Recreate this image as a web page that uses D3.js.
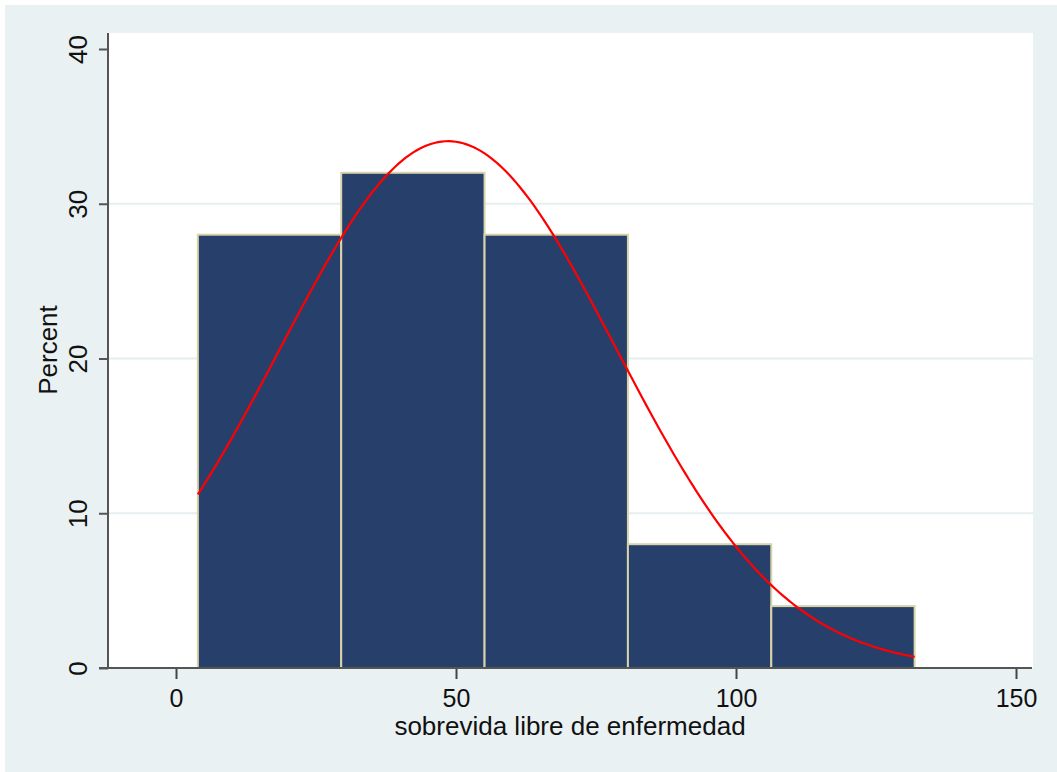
<!DOCTYPE html>
<html>
<head>
<meta charset="utf-8">
<script src="https://cdn.jsdelivr.net/npm/d3@7"></script>
<style>
  html, body { margin: 0; padding: 0; background: #ffffff; }
  svg { display: block; }
  text { font-family: "Liberation Sans", Arial, sans-serif; fill: #111; }
</style>
</head>
<body>
<svg id="chart" width="1057" height="772"></svg>
<script>
// Histogram of disease-free survival (percent per bin)
const binStarts = [3.9, 29.5, 55.1, 80.7, 106.3];
const binWidth = 25.6;
const percents = [28, 32, 28, 8, 4];

// Fitted normal curve parameters
const fitMean = 48.6;
const fitSd = 30.0;

const xTicks = [0, 50, 100, 150];
const yTicks = [0, 10, 20, 30, 40];
const yGrid = [10, 20, 30];
const xTitle = "sobrevida libre de enfermedad";
const yTitle = "Percent";

const svg = d3.select("#chart");

const x = d3.scaleLinear().domain([0, 150]).range([176, 1016]);
const y = d3.scaleLinear().domain([0, 40]).range([668, 49]);

const plotLeft = 108, plotRight = 1033, plotTop = 33, plotBottom = 668;

// outer graph region
svg.append("rect")
  .attr("x", 5).attr("y", 5).attr("width", 1052).attr("height", 767)
  .attr("fill", "#e9f1f3");

// plot region
svg.append("rect")
  .attr("x", plotLeft).attr("y", plotTop)
  .attr("width", plotRight - plotLeft).attr("height", plotBottom - plotTop)
  .attr("fill", "#ffffff");

// grid lines
svg.append("g").selectAll("line").data(yGrid).join("line")
  .attr("x1", plotLeft).attr("x2", plotRight)
  .attr("y1", d => y(d)).attr("y2", d => y(d))
  .attr("stroke", "#e5eef0").attr("stroke-width", 2);

// bars
svg.append("g").selectAll("rect").data(percents).join("rect")
  .attr("x", (d, i) => x(binStarts[i]))
  .attr("y", d => y(d))
  .attr("width", (d, i) => x(binStarts[i] + binWidth) - x(binStarts[i]))
  .attr("height", d => y(0) - y(d))
  .attr("fill", "#273f6b")
  .attr("stroke", "#d9d3aa")
  .attr("stroke-width", 2);

// normal density scaled to percent per bin
const xMin = binStarts[0];
const xMax = binStarts[binStarts.length - 1] + binWidth;
const normalPct = v => 100 * binWidth * Math.exp(-0.5 * ((v - fitMean) / fitSd) ** 2) / (fitSd * Math.sqrt(2 * Math.PI));
const curvePts = d3.range(0, 201).map(k => {
  const v = xMin + (xMax - xMin) * k / 200;
  return [v, normalPct(v)];
});
svg.append("path")
  .datum(curvePts)
  .attr("d", d3.line().x(d => x(d[0])).y(d => y(d[1])))
  .attr("fill", "none")
  .attr("stroke", "#ff0000")
  .attr("stroke-width", 2.2);

// y axis
const yAxis = svg.append("g").attr("transform", `translate(${plotLeft},0)`)
  .call(d3.axisLeft(y).tickValues(yTicks).tickSize(9).tickFormat(d3.format("d")));
yAxis.select(".domain").remove();
yAxis.selectAll(".tick line").attr("stroke", "#555").attr("stroke-width", 2);
yAxis.selectAll(".tick text")
  .attr("x", 0).attr("y", 0)
  .attr("transform", "translate(-21,0) rotate(-90)")
  .attr("text-anchor", "middle")
  .attr("dy", 0)
  .style("font-size", "26px")
  .style("font-family", "Liberation Sans, Arial, sans-serif")
  .attr("fill", "#111");
svg.append("line")
  .attr("x1", plotLeft).attr("x2", plotLeft)
  .attr("y1", plotTop).attr("y2", plotBottom + 1)
  .attr("stroke", "#555").attr("stroke-width", 2);

// x axis
const xAxis = svg.append("g").attr("transform", `translate(0,${plotBottom})`)
  .call(d3.axisBottom(x).tickValues(xTicks).tickSize(11).tickFormat(d3.format("d")));
xAxis.select(".domain").remove();
xAxis.selectAll(".tick line").attr("stroke", "#444").attr("stroke-width", 2);
xAxis.selectAll(".tick text")
  .attr("y", 39).attr("dy", 0)
  .style("font-size", "25px")
  .style("font-family", "Liberation Sans, Arial, sans-serif")
  .attr("fill", "#111");
svg.append("line")
  .attr("x1", 99).attr("x2", plotRight - 1)
  .attr("y1", plotBottom).attr("y2", plotBottom)
  .attr("stroke", "#555").attr("stroke-width", 2);

// axis titles
svg.append("text")
  .attr("x", 570).attr("y", 735)
  .attr("text-anchor", "middle")
  .style("font-size", "26px")
  .text(xTitle);
svg.append("text")
  .attr("transform", "translate(57,350) rotate(-90)")
  .attr("text-anchor", "middle")
  .style("font-size", "26px")
  .text(yTitle);
</script>
</body>
</html>
